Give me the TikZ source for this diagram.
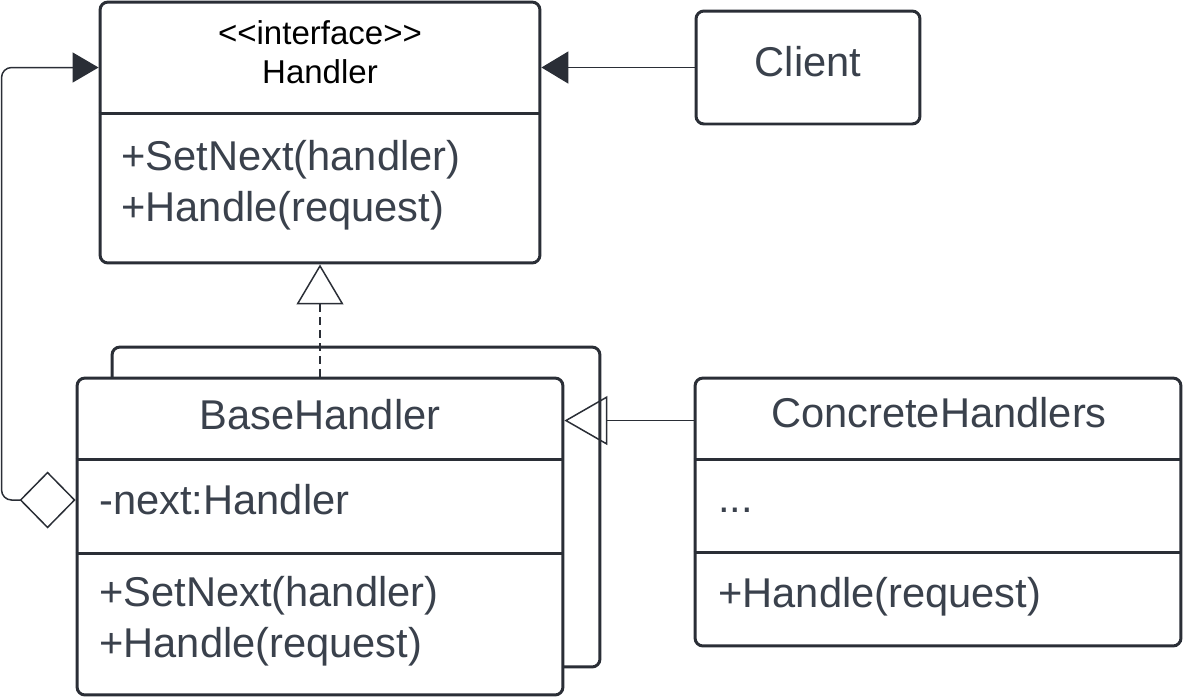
\documentclass[tikz,border=0pt]{standalone}
\usepackage{fontspec}
\setmainfont{Liberation Sans}
\usetikzlibrary{positioning,arrows.meta,calc}
\definecolor{UmlLine}{RGB}{42,46,54}
\definecolor{UmlText}{RGB}{58,65,76}
\tikzset{
  classbox/.style={draw=UmlLine,fill=white,line width=1.7pt,rounded corners=4.5pt,inner sep=0pt},
  divider/.style={draw=UmlLine,line width=1.7pt},
  classname/.style={inner sep=0pt,align=center,text=UmlText,font=\fontsize{23.7}{29}\selectfont},
  member/.style={anchor=west,inner sep=0pt,align=left,text=UmlText,font=\fontsize{23.7}{29}\selectfont},
  stereo/.style={inner sep=0pt,align=center,text=black,font=\fontsize{18.8}{22.2}\selectfont},
  nav/.style={-{Triangle[length=0.54cm,width=0.64cm]},line width=1.1pt,draw=UmlLine},
  realize/.style={-{Triangle[open,length=0.8cm,width=0.94cm]},line width=0.85pt,
    dash pattern=on 0.16cm off 0.1cm,draw=UmlLine},
  inherit/.style={-{Triangle[open,length=0.86cm,width=0.98cm]},line width=0.85pt,draw=UmlLine},
  aggregate/.style={{Diamond[open,length=1.12cm,width=1.14cm]}-{Triangle[length=0.52cm,width=0.6cm]},
    line width=0.85pt,rounded corners=0.2cm,draw=UmlLine}
}
\begin{document}
\begin{tikzpicture}[x=0.02cm,y=-0.02cm]
  \useasboundingbox (0,0) rectangle (1183,698);
  \node[classbox,minimum width=8.8cm,minimum height=5.22cm] (handler) at (320,132.5) {};
  \node[classbox,minimum width=4.48cm,minimum height=2.26cm] (client) at (808,67.5) {};
  \node[classbox,minimum width=9.76cm,minimum height=6.4cm] (stack) at (356,507) {};
  \node[classbox,minimum width=9.72cm,minimum height=6.34cm] (base) at (320,536.5) {};
  \node[classbox,minimum width=9.72cm,minimum height=5.36cm] (concrete) at (938,512) {};

  \draw[divider] (handler.west |- 0,113) -- (handler.east |- 0,113);
  \draw[divider] (base.west |- 0,459) -- (base.east |- 0,459);
  \draw[divider] (base.west |- 0,553) -- (base.east |- 0,553);
  \draw[divider] (concrete.west |- 0,459) -- (concrete.east |- 0,459);
  \draw[divider] (concrete.west |- 0,552) -- (concrete.east |- 0,552);

  \node[classname] (clientname) at (808,62) {Client};
  \node[stereo] (handlername) at (320,52) {<{}<interface>{}>\\Handler};
  \node[member] (handlerops) at (121,185) {+SetNext(handler)\\+Handle(request)};
  \node[classname] (basename) at (320,415) {BaseHandler};
  \node[member] (nextattr) at (99,500) {-next:Handler};
  \node[member] (baseops) at (99,621) {+SetNext(handler)\\+Handle(request)};
  \node[classname] (concname) at (939,413) {ConcreteHandlers};
  \node[member] (concattr) at (718,510) {...};
  \node[member] (concops) at (718,597) {+Handle(request)};

  \coordinate (inh) at ($(concrete.north west)+(0,44)$);
  \draw[nav] (client.west) -- (client.west -| handler.east);
  \draw[realize] (base.north) -- (handler.south);
  \draw[inherit] (inh) -- (inh -| base.east);
  \draw[aggregate] (nextattr -| base.west) -- ++(-74,0) |- (client.west -| handler.west);
\end{tikzpicture}
\end{document}
